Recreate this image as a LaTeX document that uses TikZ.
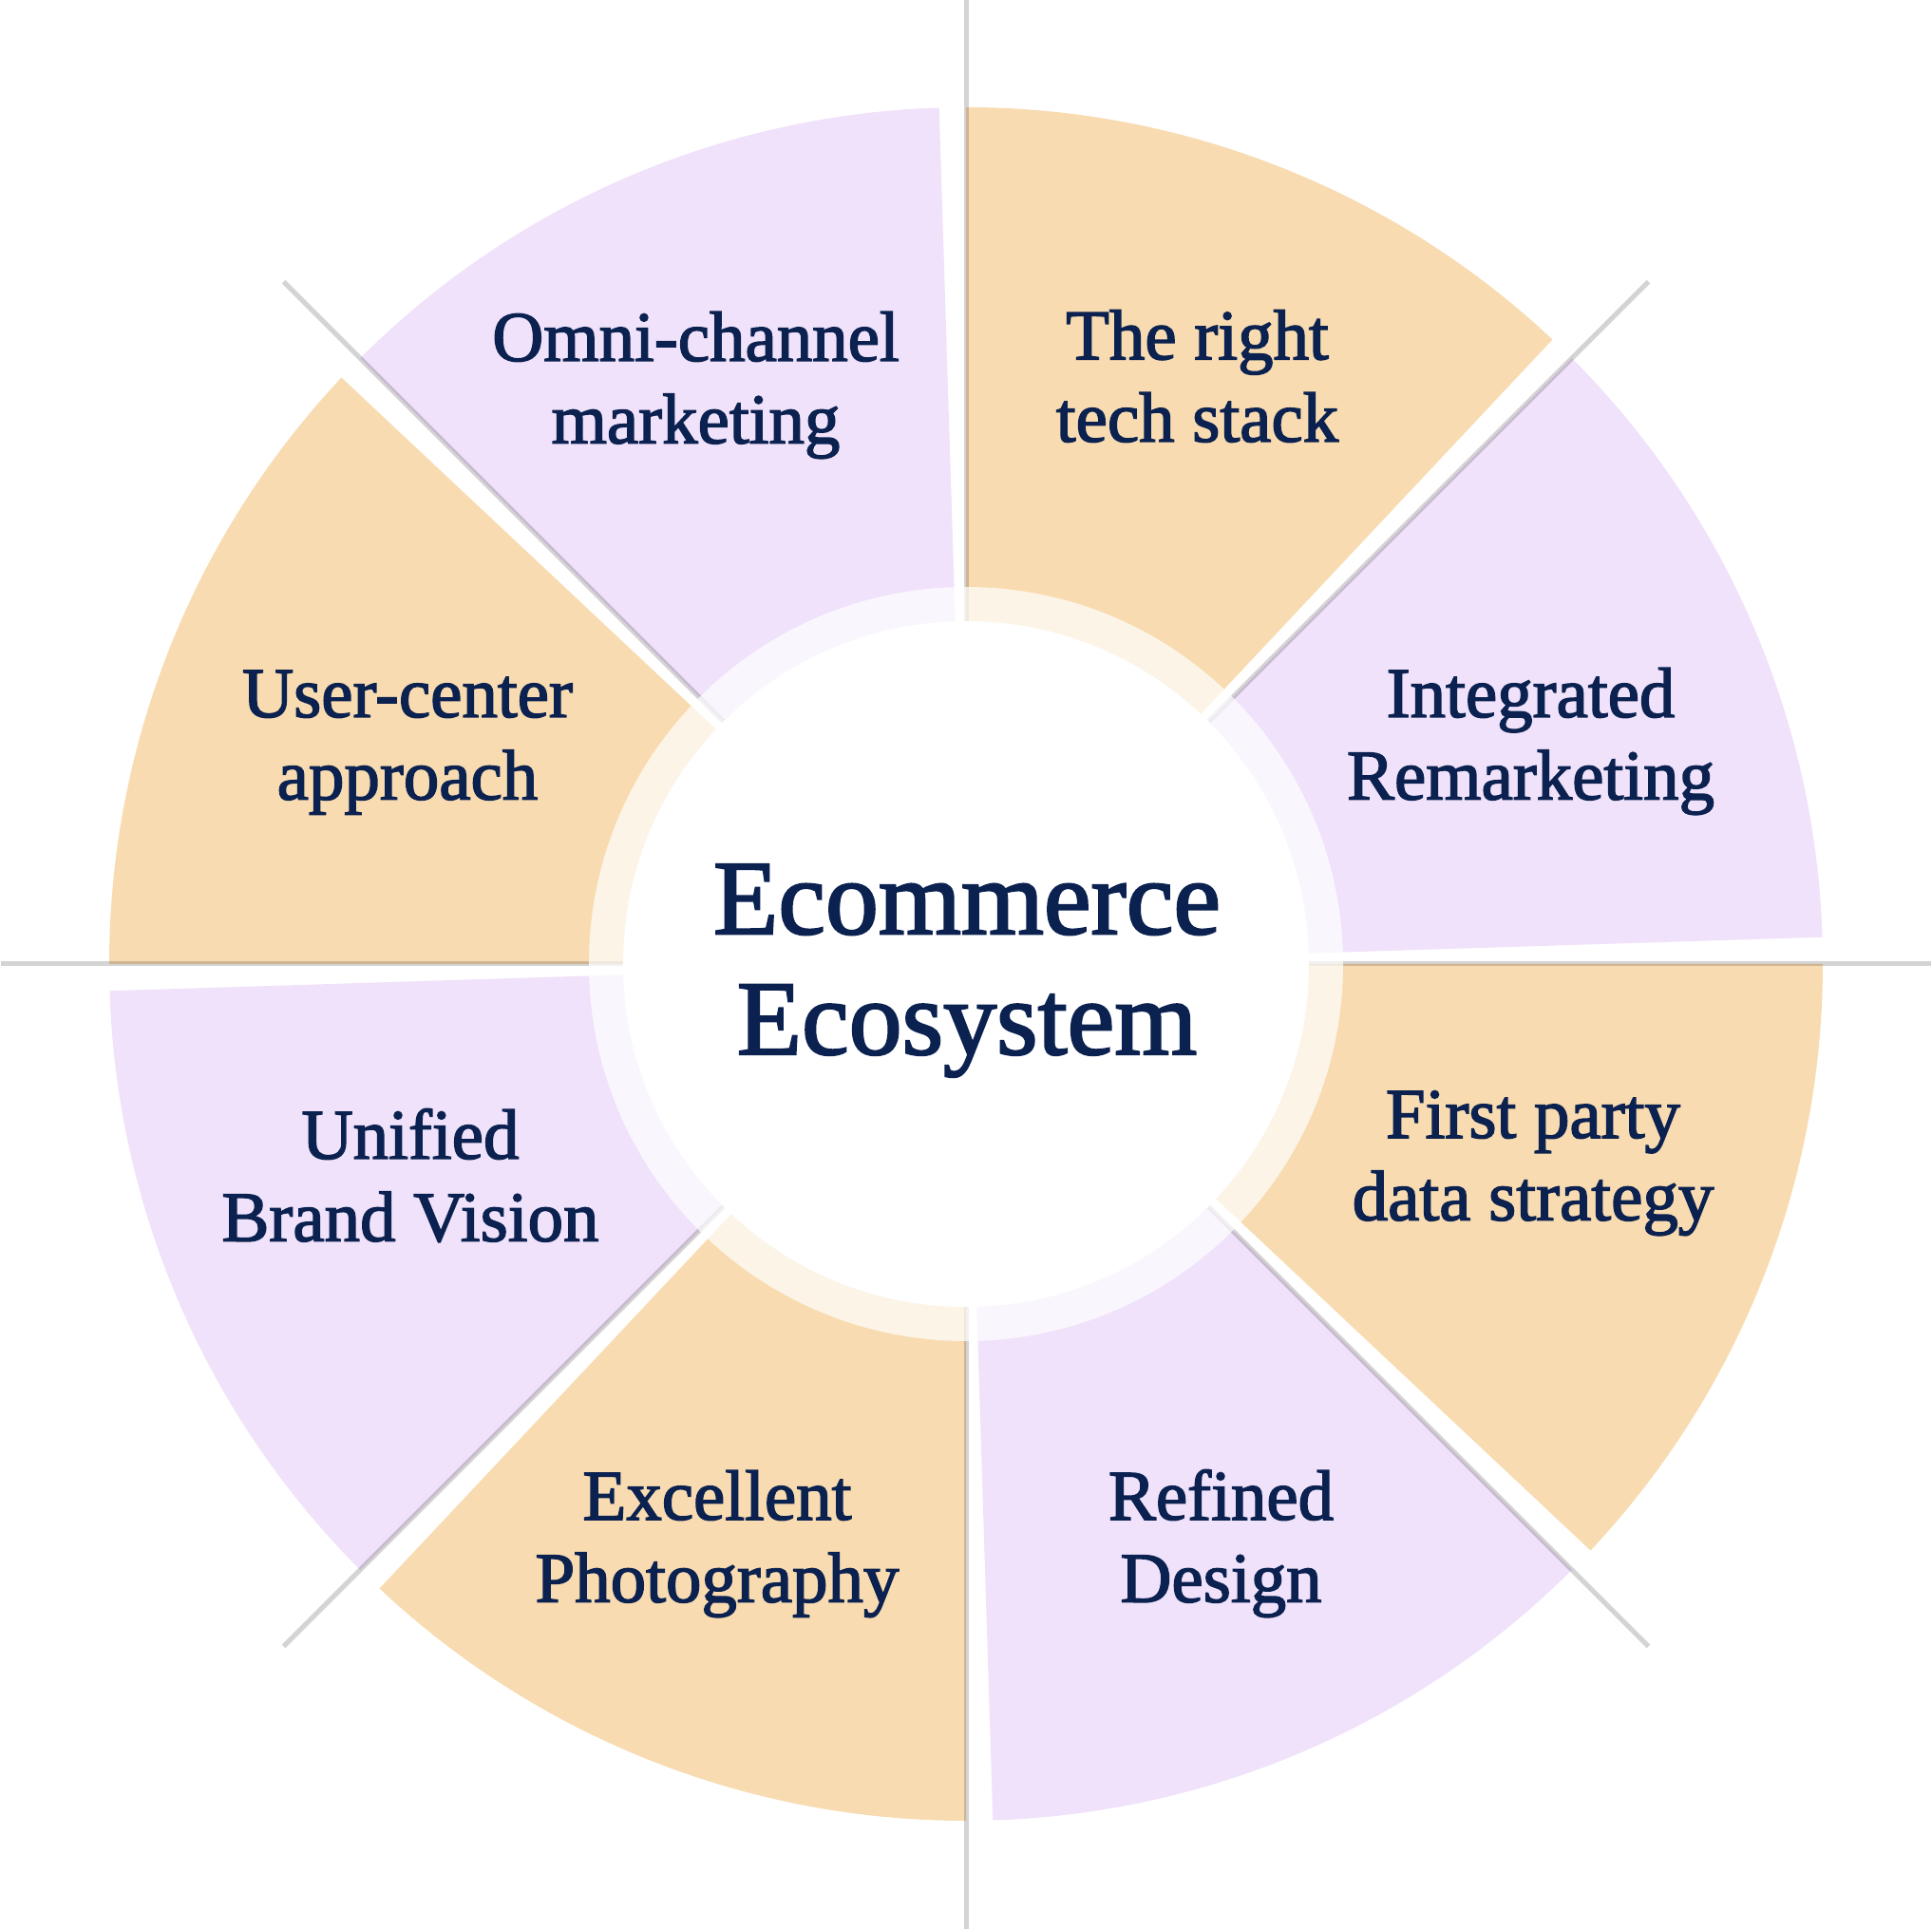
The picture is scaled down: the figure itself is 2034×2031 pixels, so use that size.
\documentclass[tikz,border=0pt]{standalone}
\usepackage{fontspec}
\newfontfamily\lblfont{Liberation Serif}[FakeBold=2]
\definecolor{peach}{HTML}{F8DBB0}
\definecolor{lilac}{HTML}{F0E2FA}
\definecolor{navy}{HTML}{0B2150}
\definecolor{rulegrey}{HTML}{D4D4D4}
\begin{document}
\begin{tikzpicture}[x=0.01cm,y=0.01cm,
  lbl/.style={font=\lblfont\fontsize{21.3}{25}\selectfont, text=navy, anchor=base, inner sep=0pt},
  ttl/.style={font=\lblfont\fontsize{31.8}{37}\selectfont, text=navy, anchor=base, inner sep=0pt},
  guide/.style={draw=rulegrey, line width=0.05cm, blend mode=multiply}]
\useasboundingbox[fill=white] (-1017,-1016) rectangle (1017,1015);
% sectors
\foreach \a/\c in {0/lilac,45/peach,90/lilac,135/peach,180/lilac,225/peach,270/lilac,315/peach}{
  \fill[\c] (0,0) -- ({\a+1.8}:902) arc[start angle={\a+1.8}, end angle={\a+45}, radius=902] -- cycle;
}
% guide lines
\foreach \a in {0,45,...,315}{
  \draw[guide] (0,0) -- (\a:1016);
}
% ring and hub
\fill[white, opacity=0.7] (0,0) circle[radius=397];
\fill[white] (0,0) circle[radius=361];
% title
\node[ttl] (title1) at (1,31.7) {Ecommerce};
\node[ttl] (title2) at (1,-95) {Ecosystem};
% labels
\node[lbl] (omni1) at (-284.5,635) {Omni-channel};
\node[lbl] (omni2) at (-284.5,548.3) {marketing};
\node[lbl] (tech1) at (243.5,636.7) {The right};
\node[lbl] (tech2) at (243.5,550) {tech stack};
\node[lbl] (user1) at (-588,260) {User-center};
\node[lbl] (user2) at (-588,173.3) {approach};
\node[lbl] (integ1) at (594.5,260) {Integrated};
\node[lbl] (integ2) at (594.5,173.3) {Remarketing};
\node[lbl] (first1) at (597,-183) {First party};
\node[lbl] (first2) at (597,-269.7) {data strategy};
\node[lbl] (unif1) at (-585,-205) {Unified};
\node[lbl] (unif2) at (-585,-291.7) {Brand Vision};
\node[lbl] (excel1) at (-262,-585) {Excellent};
\node[lbl] (excel2) at (-262,-671.7) {Photography};
\node[lbl] (refin1) at (268.5,-585) {Refined};
\node[lbl] (refin2) at (268.5,-671.7) {Design};
\end{tikzpicture}
\end{document}
